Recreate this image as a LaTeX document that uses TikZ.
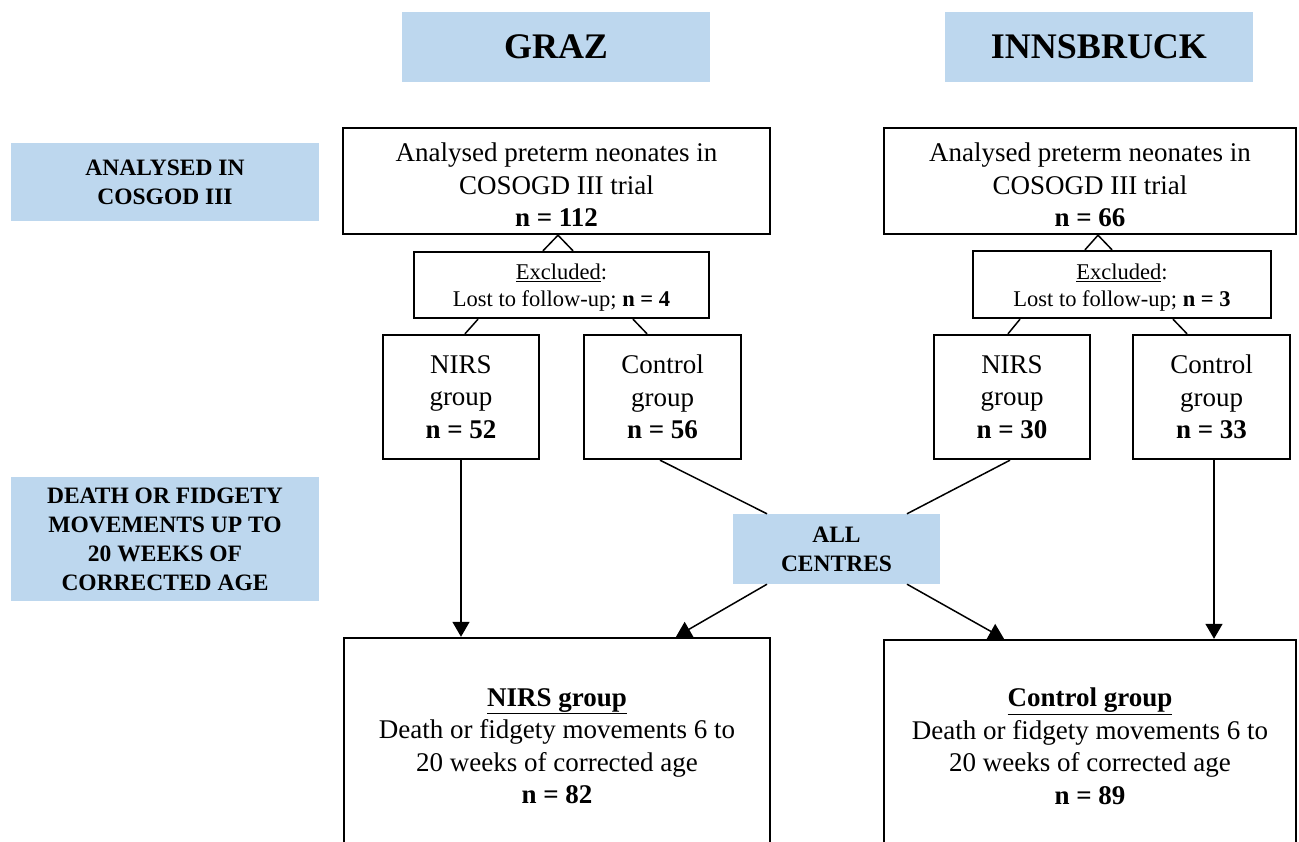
\documentclass[tikz,border=0pt]{standalone}
\usepackage{fontspec}
\setmainfont{Liberation Serif}
\usetikzlibrary{arrows.meta}
\definecolor{lblue}{RGB}{189,215,238}
\begin{document}
\begin{tikzpicture}[x=1pt,y=-1pt,
  hdr/.style={fill=lblue,draw=none,minimum width=308pt,minimum height=70pt,inner sep=0pt,
    font={\fontsize{36}{40}\selectfont\bfseries}},
  side/.style={fill=lblue,draw=none,minimum width=308pt,inner sep=0pt,align=center,
    font={\fontsize{23.5}{29}\selectfont\bfseries}},
  box/.style={draw,line width=2.4pt,inner sep=0pt,align=center,
    font={\fontsize{27}{32.5}\selectfont}},
  exbox/.style={draw,line width=2.4pt,inner sep=0pt,align=center,
    font={\fontsize{22.5}{27}\selectfont}},
  conn/.style={line width=1.5pt},
  arr/.style={line width=1.5pt,-{Triangle[width=17pt,length=15pt]}}
]
\useasboundingbox (0,0) rectangle (1299,842);
\clip (0,0) rectangle (1299,842);

% header and side labels
\node[hdr] (graz) at (556,47) {GRAZ};
\node[hdr] (inn) at (1099,47) {INNSBRUCK};
\node[side,minimum height=78pt] (s1) at (165,182) {ANALYSED IN\\COSGOD III};
\node[side,minimum height=124pt] (s2) at (165,539) {DEATH OR FIDGETY\\MOVEMENTS UP TO\\20 WEEKS OF\\CORRECTED AGE};
\node[side,minimum width=207pt,minimum height=70pt] (all) at (836.5,549) {ALL\\CENTRES};

% top boxes
\node[box,minimum width=427pt,minimum height=106pt] (a1) at (556.5,181)
  {\rule{0pt}{27pt}Analysed preterm neonates in\\COSOGD III trial\\\textbf{n = 112}};
\node[box,minimum width=412pt,minimum height=106pt] (b1) at (1090,181)
  {\rule{0pt}{27pt}Analysed preterm neonates in\\COSOGD III trial\\\textbf{n = 66}};

% excluded
\node[exbox,minimum width=295pt,minimum height=66pt] (a2) at (561.5,285)
  {\rule{0pt}{21.5pt}\underline{Excluded}:\\Lost to follow-up; \textbf{n = 4}};
\node[exbox,minimum width=298pt,minimum height=67pt] (b2) at (1122,284.5)
  {\rule{0pt}{21.5pt}\underline{Excluded}:\\Lost to follow-up; \textbf{n = 3}};

% group boxes
\node[box,minimum width=156pt,minimum height=124pt] (a3) at (461,397) {NIRS\\group\\\textbf{n = 52}};
\node[box,minimum width=157pt,minimum height=124pt] (a4) at (662.5,397) {Control\\group\\\textbf{n = 56}};
\node[box,minimum width=156pt,minimum height=124pt] (b3) at (1012,397) {NIRS\\group\\\textbf{n = 30}};
\node[box,minimum width=157pt,minimum height=124pt] (b4) at (1211.5,397) {Control\\group\\\textbf{n = 33}};

% bottom boxes
\node[box,minimum width=426pt,minimum height=216pt] (a5) at (557,746)
  {\underline{\textbf{NIRS group}}\\Death or fidgety movements 6 to\\20 weeks of corrected age\\\textbf{n = 82}};
\node[box,minimum width=412pt,minimum height=213pt] (b5) at (1090,746.5)
  {\underline{\textbf{Control group}}\\Death or fidgety movements 6 to\\20 weeks of corrected age\\\textbf{n = 89}};

% connectors
\draw[conn] ([xshift=-18.5pt]a2.north) -- ([xshift=1.5pt]a1.south) -- ([xshift=11.5pt]a2.north);
\draw[conn] ([xshift=-83.5pt]a2.south) -- ([xshift=4pt]a3.north);
\draw[conn] ([xshift=71.5pt]a2.south) -- ([xshift=-15.5pt]a4.north);

\draw[conn] ([xshift=-37pt]b2.north) -- ([xshift=8pt]b1.south) -- ([xshift=-10pt]b2.north);
\draw[conn] ([xshift=-102pt]b2.south) -- ([xshift=-4pt]b3.north);
\draw[conn] ([xshift=51pt]b2.south) -- ([xshift=-24.5pt]b4.north);

\draw[arr] (a3.south) -- (a3.south |- a5.north);
\draw[conn] ([xshift=-2.5pt]a4.south) -- ([xshift=-69.5pt]all.north);
\draw[conn] ([xshift=-2pt]b3.south) -- ([xshift=70.5pt]all.north);
\draw[arr] ([xshift=-69.5pt]all.south) -- ([xshift=119pt]a5.north);
\draw[arr] ([xshift=70.5pt]all.south) -- ([xshift=-86pt]b5.north);
\draw[arr] ([xshift=2.5pt]b4.south) -- ([xshift=2.5pt]b4.south |- b5.north);
\end{tikzpicture}
\end{document}
